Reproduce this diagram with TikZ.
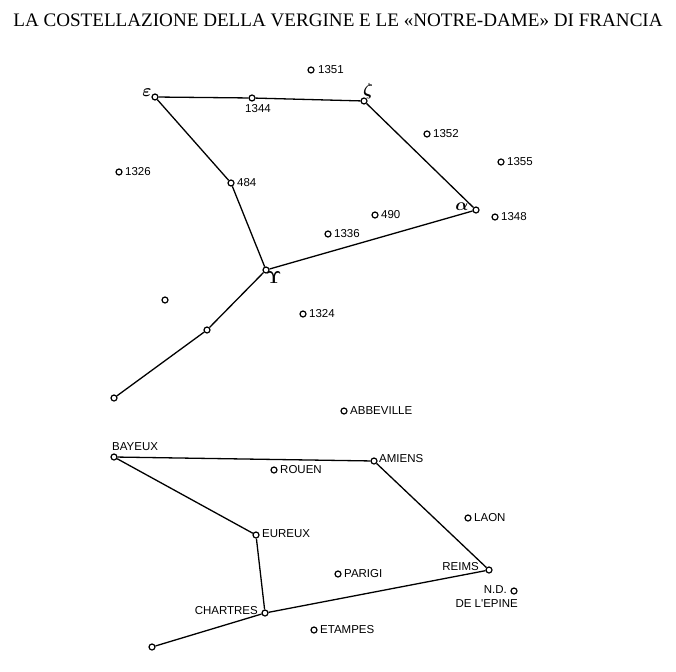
\documentclass[tikz,border=0pt]{standalone}
\usepackage[no-math]{fontspec}
\setmainfont{Liberation Serif}
\newfontfamily\labfont{Liberation Sans}
\begin{document}
\begin{tikzpicture}[x=1pt,y=-1pt,
  star/.style={circle,draw,fill=white,inner sep=0pt,minimum size=6pt,line width=1.2pt},
  lbl/.style={font=\labfont\fontsize{11.5}{12}\selectfont,inner sep=0pt},
  greek/.style={font=\fontsize{17}{17}\selectfont\boldmath,inner sep=0pt},
  link/.style={line width=1.3pt}]
\useasboundingbox (0,0) rectangle (676,671);
\node[font=\fontsize{19.1}{21}\selectfont,inner sep=0pt,anchor=base] (title) at (338,27) {LA COSTELLAZIONE DELLA VERGINE E LE «NOTRE-DAME» DI FRANCIA};

% ---- constellation ----
\node[star] (eps) at (155,97) {};
\node[star] (s1344) at (252,98) {};
\node[star] (zeta) at (364,101) {};
\node[star] (alpha) at (476,210) {};
\node[star] (s484) at (231,183) {};
\node[star] (gam) at (266,270) {};
\node[star] (s330) at (207,330) {};
\node[star] (s398) at (114,398) {};
\node[star] (s1351) at (311,70) {};
\node[star] (s1352) at (427,134) {};
\node[star] (s1355) at (501,162) {};
\node[star] (s1348) at (495,217) {};
\node[star] (s1326) at (119,172) {};
\node[star] (s490) at (375,215) {};
\node[star] (s1336) at (328,234) {};
\node[star] (s300) at (165,300) {};
\node[star] (s1324) at (303,314) {};

\node[greek] (leps) at (147,93) {$\varepsilon$};
\node[greek] (lzeta) at (368,91) {$\zeta$};
\node[greek] (lalpha) at (462,207) {$\alpha$};
\node[greek] (lgam) at (274,278) {$\mathbf{\Upsilon}$};
\node[lbl,anchor=north] (t1344) at (258,104) {1344};
\node[lbl,anchor=west] (t1351) at (318,70) {1351};
\node[lbl,anchor=west] (t1352) at (433,134) {1352};
\node[lbl,anchor=west] (t1355) at (507,162) {1355};
\node[lbl,anchor=west] (t1348) at (501,217) {1348};
\node[lbl,anchor=west] (t1326) at (125,172) {1326};
\node[lbl,anchor=west] (t484) at (237,183) {484};
\node[lbl,anchor=west] (t490) at (381,215) {490};
\node[lbl,anchor=west] (t1336) at (334,234) {1336};
\node[lbl,anchor=west] (t1324) at (309,314) {1324};

\draw[link] (eps) -- (s1344) -- (zeta) -- (alpha) -- (gam);
\draw[link] (eps) -- (s484) -- (gam) -- (s330) -- (s398);

% ---- map ----
\node[star] (abb) at (344,411) {};
\node[star] (bay) at (114,457) {};
\node[star] (rou) at (274,470) {};
\node[star] (ami) at (374,461) {};
\node[star] (lao) at (468,518) {};
\node[star] (eur) at (256,535) {};
\node[star] (par) at (338,574) {};
\node[star] (rei) at (489,570) {};
\node[star] (ndep) at (514,591) {};
\node[star] (cha) at (265,613) {};
\node[star] (eta) at (314,630) {};
\node[star] (end) at (152,647) {};

\node[lbl,anchor=west] (tabb) at (350,411) {ABBEVILLE};
\node[lbl,anchor=south west] (tbay) at (112,451) {BAYEUX};
\node[lbl,anchor=west] (trou) at (280,470) {ROUEN};
\node[lbl,anchor=west] (tami) at (379,459) {AMIENS};
\node[lbl,anchor=west] (tlao) at (474,518) {LAON};
\node[lbl,anchor=west] (teur) at (262,534) {EUREUX};
\node[lbl,anchor=west] (tpar) at (344,574) {PARIGI};
\node[lbl,anchor=east] (trei) at (479,567) {REIMS};
\node[lbl,anchor=east] (tnd) at (507,590) {N.D.};
\node[lbl,anchor=east] (tepine) at (518,604) {DE L'EPINE};
\node[lbl,anchor=east] (tcha) at (258,611) {CHARTRES};
\node[lbl,anchor=west] (teta) at (320,630) {ETAMPES};

\draw[link] (bay) -- (ami) -- (rei) -- (cha) -- (end);
\draw[link] (bay) -- (eur) -- (cha);
\end{tikzpicture}
\end{document}
